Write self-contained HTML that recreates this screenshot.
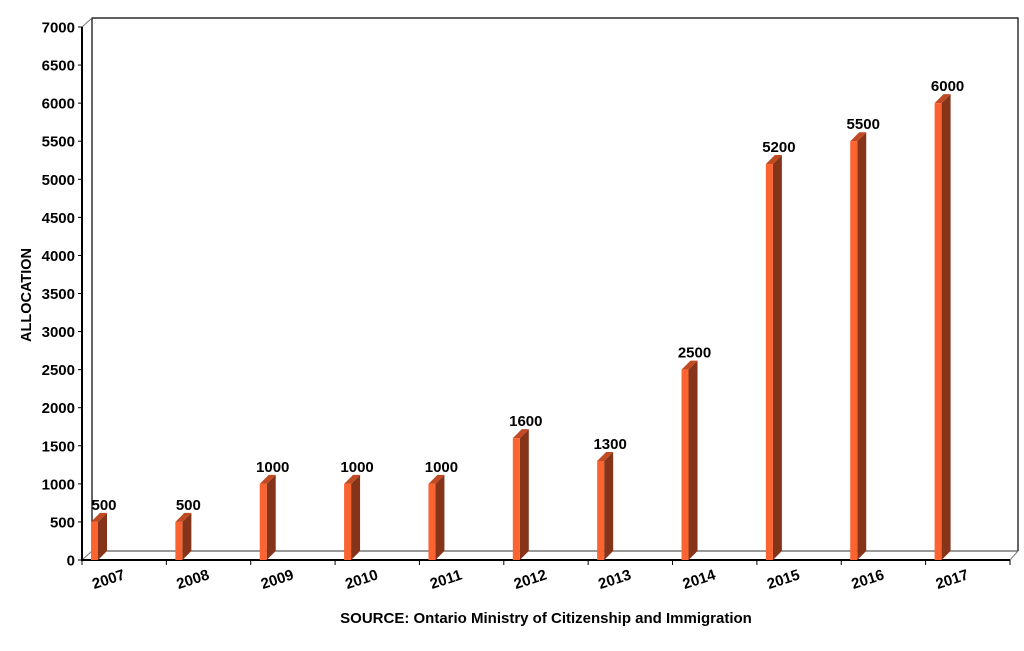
<!DOCTYPE html>
<html><head><meta charset="utf-8"><style>body{margin:0;background:#fff}svg{display:block}</style></head>
<body>
<svg width="1024" height="651" xmlns="http://www.w3.org/2000/svg" font-family="Liberation Sans, Arial, sans-serif" font-weight="bold">
<rect width="1024" height="651" fill="#fff"/>
<polyline points="92,551 92,18 1018,18 1018,551" fill="none" stroke="#000" stroke-width="1.2"/>
<line x1="82" y1="27" x2="92" y2="18" stroke="#777" stroke-width="1"/>
<line x1="92" y1="551" x2="1018" y2="551" stroke="#333" stroke-width="1"/>
<line x1="82" y1="560" x2="92" y2="551" stroke="#777" stroke-width="1"/>
<line x1="1010" y1="560" x2="1018" y2="551" stroke="#777" stroke-width="1"/>
<line x1="82" y1="27" x2="82" y2="561" stroke="#000" stroke-width="2"/>
<line x1="81" y1="560" x2="1010" y2="560" stroke="#000" stroke-width="2"/>
<g id="bars"></g>
<g font-size="15" text-anchor="end" id="yl"></g>
<g id="xl" font-size="15"></g>
<text x="0" y="0" font-size="14.5" text-anchor="middle" transform="translate(31,295) rotate(-90)">ALLOCATION</text>
<text x="546" y="623" font-size="15" text-anchor="middle">SOURCE: Ontario Ministry of Citizenship and Immigration</text>
<script>
var ns="http://www.w3.org/2000/svg";
function el(t,a,p,txt){var e=document.createElementNS(ns,t);for(var k in a)e.setAttribute(k,a[k]);if(txt!=null)e.textContent=txt;document.getElementById(p).appendChild(e);return e;}
function Y(v){return 560-v*533/7000;}
for(var v=0;v<=7000;v+=500){var y=Y(v);el('line',{x1:78,y1:y,x2:82,y2:y,stroke:'#000'},'yl');el('text',{x:75,y:y+5.5},'yl',v);}
var vals=[500,500,1000,1000,1000,1600,1300,2500,5200,5500,6000];
for(var i=0;i<11;i++){
 var s=82+i*84.36,x=s+9,t=Y(vals[i]);
 el('line',{x1:s,y1:560,x2:s,y2:565,stroke:'#000'},'xl');
 el('polygon',{points:(x+7)+','+t+' '+(x+16)+','+(t-9)+' '+(x+16)+','+551+' '+(x+7)+',560',fill:'#85341a'},'bars');
 el('polygon',{points:x+','+t+' '+(x+9)+','+(t-9)+' '+(x+16)+','+(t-9)+' '+(x+7)+','+t,fill:'#c24a22'},'bars');
 el('rect',{x:x,y:t,width:7,height:560-t,fill:'#fb6330'},'bars');
 el('text',{x:x+13,y:t-12,'font-size':15,'text-anchor':'middle'},'bars',vals[i]);
 el('text',{x:0,y:0,transform:'translate('+(s+28)+',584) rotate(-18)','text-anchor':'middle'},'xl',2007+i);
}
el('line',{x1:1010,y1:560,x2:1010,y2:565,stroke:'#000'},'xl');
</script>
</svg>
</body></html>
